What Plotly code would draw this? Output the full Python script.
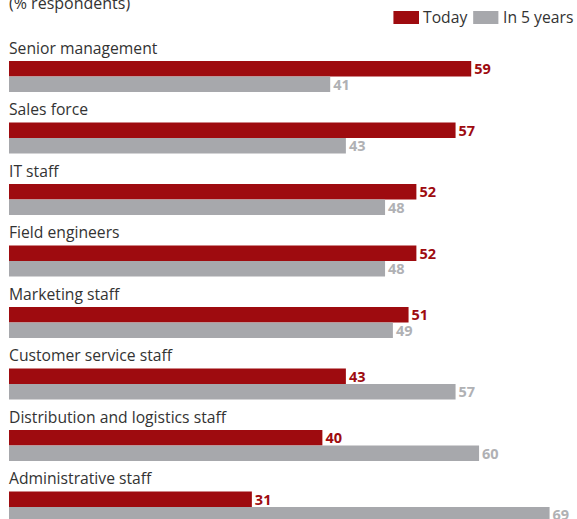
import plotly.graph_objects as go

categories = [
    "Senior management",
    "Sales force",
    "IT staff",
    "Field engineers",
    "Marketing staff",
    "Customer service staff",
    "Distribution and logistics staff",
    "Administrative staff",
]
today = [59, 57, 52, 52, 51, 43, 40, 31]
in_5_years = [41, 43, 48, 48, 49, 57, 60, 69]
series_names = ["Today", "In 5 years"]
subtitle = "(% respondents)"

RED = "#9e0b0f"
GREY = "#a7a8ac"
GREY_TEXT = "#b0b1b4"
TEXT = "#333333"
FONT = "Open Sans, sans-serif"

fig = go.Figure()
fig.add_trace(go.Bar(
    y=categories, x=today, name=series_names[0], orientation="h",
    marker=dict(color=RED, line=dict(width=0)),
    text=today, textposition="outside", cliponaxis=False,
    textfont=dict(color=RED, size=14.5, family=FONT, weight="bold"),
))
fig.add_trace(go.Bar(
    y=categories, x=in_5_years, name=series_names[1], orientation="h",
    marker=dict(color=GREY, line=dict(width=0)),
    text=in_5_years, textposition="outside", cliponaxis=False,
    textfont=dict(color=GREY_TEXT, size=14.5, family=FONT, weight="bold"),
))

# category names sit above each pair of bars
annotations = [
    dict(x=0, y=c, xref="x", yref="y", text=c, showarrow=False,
         xanchor="left", yanchor="middle", yshift=29, xshift=-2,
         font=dict(size=15.7, color=TEXT, family=FONT))
    for c in categories
]
annotations.append(dict(
    x=0, y=1, xref="paper", yref="paper", text=subtitle, showarrow=False,
    xanchor="left", yanchor="middle", yshift=-3, xshift=-2,
    font=dict(size=16, color=TEXT, family=FONT)))

# legend drawn as swatches + labels in the top-right corner
legend_items = [(series_names[0], RED, 0.6768, 0.7218, 0.7271, -1),
                (series_names[1], GREY, 0.8172, 0.8616, 0.8670, 0)]
shapes = []
for name, col, x0, x1, xt, dx in legend_items:
    shapes.append(dict(type="rect", xref="paper", yref="paper",
                       x0=x0, x1=x1, y0=1 - 24 / 519, y1=1 - 11 / 519,
                       fillcolor=col, line=dict(width=0)))
    annotations.append(dict(x=xt, y=1 - 17.5 / 519, xref="paper", yref="paper",
                            text=name, showarrow=False, xanchor="left",
                            yanchor="middle", xshift=dx,
                            font=dict(size=15.7, color=TEXT, family=FONT)))

fig.update_layout(
    width=577, height=519,
    margin=dict(l=9, r=0, t=0, b=0),
    paper_bgcolor="white", plot_bgcolor="white",
    barmode="group", bargap=0.496, bargroupgap=0,
    showlegend=False,
    xaxis=dict(range=[0, 72.5], visible=False, fixedrange=True),
    yaxis=dict(type="category", categoryorder="array", categoryarray=categories,
               range=[7.195, -1.244], visible=False, fixedrange=True),
    annotations=annotations,
    shapes=shapes,
    font=dict(family=FONT),
)
fig.update_traces(constraintext="none")

fig.write_html("out.html")
